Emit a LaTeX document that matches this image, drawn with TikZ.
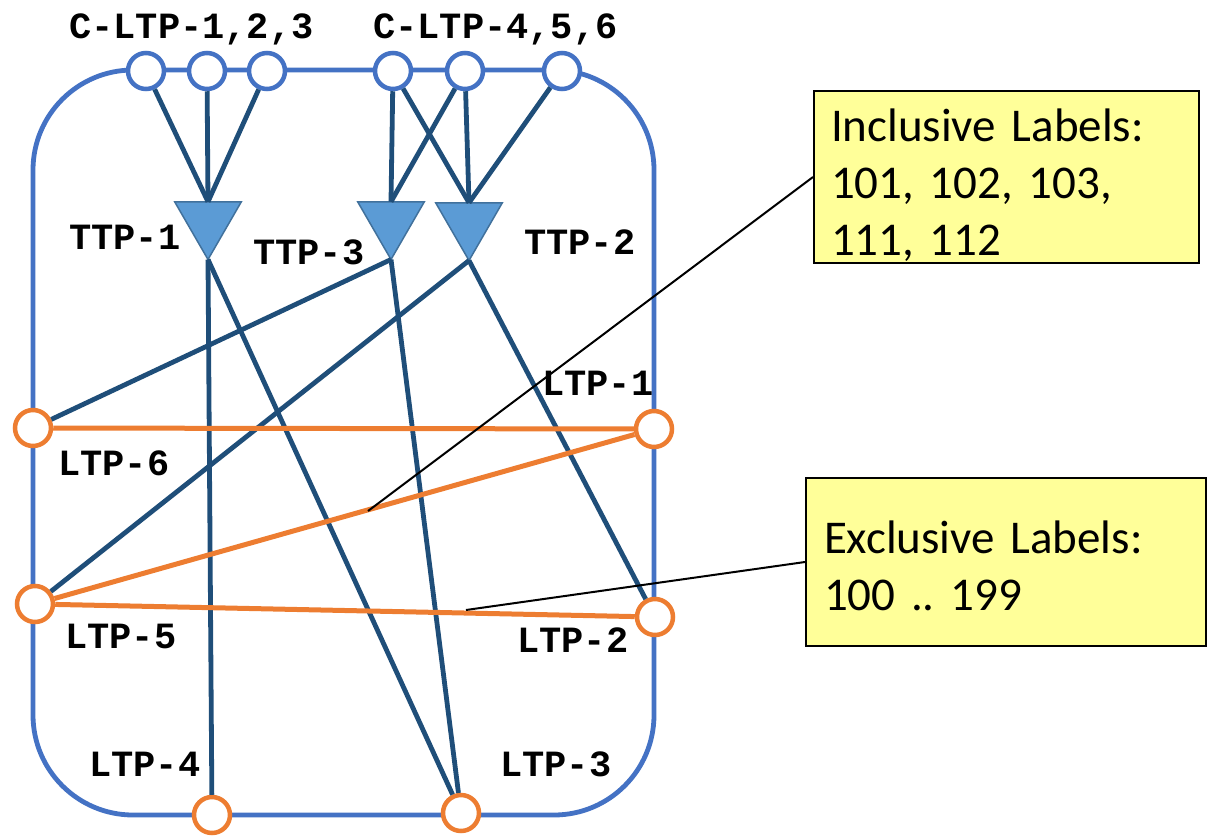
\documentclass[tikz,border=0pt]{standalone}
\usepackage{fontspec}
\setmainfont{Carlito}
\newfontfamily\tagfont{Liberation Mono}
\usetikzlibrary{shapes.geometric}
\definecolor{frameblue}{RGB}{68,114,196}
\definecolor{linkblue}{RGB}{31,78,121}
\definecolor{ttpfill}{RGB}{91,155,213}
\definecolor{ttpedge}{RGB}{65,113,156}
\definecolor{ltporange}{RGB}{237,125,49}
\definecolor{noteyellow}{RGB}{255,255,153}
\begin{document}
\begin{tikzpicture}[x=1pt,y=-1pt,
  cltp/.style={circle,draw=frameblue,line width=4.5pt,fill=white,minimum size=36pt,inner sep=0pt},
  ltp/.style={circle,draw=ltporange,line width=4.5pt,fill=white,minimum size=36pt,inner sep=0pt},
  ttp/.style={regular polygon,regular polygon sides=3,shape border rotate=180,
    draw=ttpedge,line width=1.5pt,fill=ttpfill,minimum size=77pt,inner sep=0pt,outer sep=0pt},
  link/.style={draw=linkblue,line width=4.8pt},
  xconn/.style={draw=ltporange,line width=5pt},
  callout/.style={draw=black,line width=2pt},
  tag/.style={font=\tagfont\bfseries\fontsize{37}{40}\selectfont,anchor=base west,inner sep=0pt},
  note/.style={draw=black,line width=2pt,fill=noteyellow,anchor=north west,align=left,
    inner ysep=0pt,font=\fontsize{47}{57}\selectfont\frenchspacing}
]
\useasboundingbox (0,0) rectangle (1207,835);

% network element frame
\draw[frameblue,line width=4.8pt,rounded corners=100pt] (33,70) rectangle (654,815);

% client LTPs on the top edge
\node[cltp] (c1) at (146,71) {};
\node[cltp] (c2) at (207,71) {};
\node[cltp] (c3) at (267,71) {};
\node[cltp] (c4) at (393,71) {};
\node[cltp] (c5) at (465,71) {};
\node[cltp] (c6) at (562,71) {};

% termination points
\node[ttp] (t1) at (208,221) {};
\node[ttp] (t3) at (391,221) {};
\node[ttp] (t2) at (469,222) {};

% server LTPs
\node[ltp] (l6) at (33,428) {};
\node[ltp] (l1) at (654,429) {};
\node[ltp] (l5) at (35,604) {};
\node[ltp] (l2) at (655,617) {};
\node[ltp] (l4) at (212,815) {};
\node[ltp] (l3) at (461,813) {};

% client to TTP links
\draw[link] (c1) -- (t1.north);
\draw[link] (c2) -- (t1.north);
\draw[link] (c3) -- (t1.north);
\draw[link] (c4) -- (t3.north);
\draw[link] (c4) -- (t2.north);
\draw[link] (c5) -- (t3.north);
\draw[link] (c5) -- (t2.north);
\draw[link] (c6) -- (t2.north);

% TTP to server LTP links
\draw[link] (t1.south) -- (l4);
\draw[link] (t1.south) -- (l3);
\draw[link] (t3.south) -- (l6);
\draw[link] (t3.south) -- (l3);
\draw[link] (t2.south) -- (l5);
\draw[link] (t2.south) -- (l2);

% cross connections
\draw[xconn] (l6) -- (l1);
\draw[xconn] (l5) -- (l1);
\draw[xconn] (l5) -- (l2);

% labels
\node[tag] (tc1) at (69,38) {C-LTP-1,2,3};
\node[tag] (tc2) at (373,38) {C-LTP-4,5,6};
\node[tag] (tt1) at (69,249) {TTP-1};
\node[tag] (tt3) at (253,264) {TTP-3};
\node[tag] (tt2) at (524,254) {TTP-2};
\node[tag] (tl1) at (542,395) {LTP-1};
\node[tag] (tl6) at (58,475) {LTP-6};
\node[tag] (tl5) at (65,648) {LTP-5};
\node[tag] (tl2) at (517,652) {LTP-2};
\node[tag] (tl4) at (89,776) {LTP-4};
\node[tag] (tl3) at (500,776) {LTP-3};

% label range notes
\node[note,inner xsep=17pt,text width=351pt,text height=50pt,text depth=122pt] (incl) at (813,90)
  {Inclusive Labels:\\101, 102, 103,\\111, 112};
\node[note,inner xsep=18pt,text width=364pt,text height=75pt,text depth=93pt] (excl) at (805,477)
  {Exclusive Labels:\\100 .. 199};

\coordinate (pincl) at (368,511);
\coordinate (pexcl) at (466,610);
\draw[callout] (pincl) -- (incl.west);
\draw[callout] (pexcl) -- (excl.west);
\end{tikzpicture}
\end{document}
